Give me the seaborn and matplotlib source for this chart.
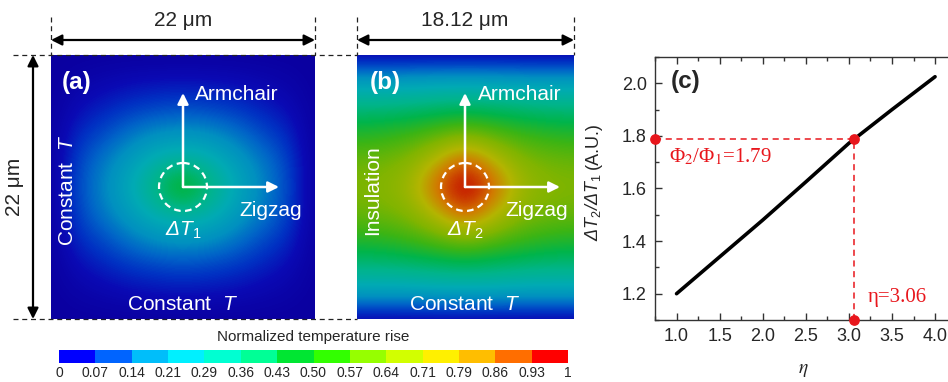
import numpy as np
import matplotlib
matplotlib.use('Agg')
import matplotlib.pyplot as plt
import seaborn as sns
from matplotlib.colors import ListedColormap, LinearSegmentedColormap, BoundaryNorm
from matplotlib.patches import Circle
from matplotlib.ticker import MultipleLocator
import matplotlib.cm as cm

# ---------------- data ----------------
eta = [1.0, 1.5, 2.0, 2.5, 3.0, 3.5, 4.0]
ratio = [1.20, 1.34, 1.48, 1.625, 1.772, 1.90, 2.025]
eta_mark = 3.06
ratio_mark = 1.79
xlim_c = (0.75, 4.25)
ylim_c = (1.1, 2.1)

cbar_labels = ['0', '0.07', '0.14', '0.21', '0.29', '0.36', '0.43', '0.50',
               '0.57', '0.64', '0.71', '0.79', '0.86', '0.93', '1']
cbar_colors = ['#0000ff', '#0064ff', '#00befa', '#00f0ff', '#00ffd2', '#00ff96',
               '#00e632', '#32ff00', '#96ff00', '#d2ff00', '#fff000', '#ffbe00',
               '#ff6e00', '#ff0000']

# normalized temperature rise read on a coarse grid (quadrant: edge -> centre)
quad_a = [
    [0.00, 0.000, 0.000, 0.000, 0.000, 0.00],
    [0.00, 0.020, 0.035, 0.050, 0.057, 0.06],
    [0.00, 0.050, 0.080, 0.105, 0.120, 0.13],
    [0.00, 0.090, 0.130, 0.185, 0.225, 0.24],
    [0.00, 0.120, 0.190, 0.260, 0.330, 0.36],
    [0.00, 0.130, 0.210, 0.300, 0.410, 0.54],
]
quad_b = [
    [0.02, 0.02, 0.02, 0.02, 0.02],
    [0.27, 0.27, 0.27, 0.28, 0.28],
    [0.40, 0.40, 0.41, 0.42, 0.43],
    [0.49, 0.50, 0.52, 0.55, 0.58],
    [0.57, 0.58, 0.61, 0.71, 0.85],
    [0.60, 0.61, 0.66, 0.85, 1.00],
]

heat_pos = [0, 0.05, 0.10, 0.16, 0.22, 0.30, 0.38, 0.45, 0.52, 0.60, 0.70,
            0.80, 0.90, 1.0]
heat_col = ['#0a00a0', '#0a0ab4', '#0032c3', '#0064c8', '#0090c0', '#00aab4',
            '#00b48c', '#00b44b', '#3cb414', '#82b400', '#b4b400', '#d27800',
            '#c82800', '#a00000']


def mirror(q):
    q = np.array(q, dtype=float)
    top = np.hstack([q, np.fliplr(q[:, :-1])])
    return np.vstack([top, np.flipud(top[:-1])])


# ---------------- style ----------------
sns.set_style('ticks')
plt.rcParams['font.family'] = ['Liberation Sans', 'DejaVu Sans']
plt.rcParams['mathtext.fontset'] = 'custom'
plt.rcParams['mathtext.rm'] = 'Liberation Sans'
plt.rcParams['mathtext.it'] = 'Liberation Sans:italic'
plt.rcParams['mathtext.bf'] = 'Liberation Sans:bold'

W, H = 948, 382
fig = plt.figure(figsize=(W / 100, H / 100), dpi=100, facecolor='white')


def rect(x0, y0, x1, y1):
    return [x0 / W, 1 - y1 / H, (x1 - x0) / W, (y1 - y0) / H]


axa = fig.add_axes(rect(51, 55, 315, 319))
axb = fig.add_axes(rect(357, 55, 574, 319))
axc = fig.add_axes(rect(655, 57, 956.6, 320))
cax = fig.add_axes(rect(59, 350, 568, 362.5))

heat_cmap = LinearSegmentedColormap.from_list('heat', list(zip(heat_pos, heat_col)))


def show_field(ax, field):
    ny, nx = field.shape
    dx = 0.5 / (nx - 1)
    dy = 0.5 / (ny - 1)
    ax.imshow(field, cmap=heat_cmap, vmin=0, vmax=1, interpolation='bicubic',
              extent=(-dx, 1 + dx, 1 + dy, -dy), aspect='auto')
    ax.set_xlim(0, 1)
    ax.set_ylim(1, 0)
    ax.axis('off')


show_field(axa, mirror(quad_a))
show_field(axb, mirror(quad_b))

# ---------------- colorbar ----------------
bounds = np.linspace(0, 1, len(cbar_colors) + 1)
sm = cm.ScalarMappable(norm=BoundaryNorm(bounds, len(cbar_colors)),
                       cmap=ListedColormap(cbar_colors))
cb = fig.colorbar(sm, cax=cax, orientation='horizontal', ticks=bounds)
cb.outline.set_visible(False)
cax.set_xticklabels(cbar_labels)
cax.tick_params(length=0, pad=2.5, labelsize=10)
fig.text(313 / W, 1 - 337 / H, 'Normalized temperature rise', ha='center',
         va='center', fontsize=11)

# ---------------- panel (c) ----------------
red = '#e8161c'
sns.lineplot(x=eta, y=ratio, color='black', linewidth=2.6, ax=axc)
axc.set_xlim(*xlim_c)
axc.set_ylim(*ylim_c)
axc.plot([xlim_c[0], eta_mark], [ratio_mark, ratio_mark], ls=(0, (4, 3)),
         color=red, lw=1.1)
axc.plot([eta_mark, eta_mark], [ylim_c[0], ratio_mark], ls=(0, (4, 3)),
         color=red, lw=1.1)
axc.scatter([xlim_c[0], eta_mark, eta_mark], [ratio_mark, ratio_mark, ylim_c[0]],
            s=45, color=red, clip_on=False, zorder=5)
axc.text(0.91, 1.719, r'Φ$_2$/Φ$_1$=1.79', color=red, fontsize=15,
         family='Liberation Serif', math_fontfamily='stix', va='center')
axc.text(3.22, 1.187, 'η=3.06', color=red, fontsize=15,
         family='Liberation Serif', va='center')
axc.text(0.053, 0.905, '(c)', transform=axc.transAxes, fontweight='bold',
         fontsize=17.5, ha='left', va='center')
axc.xaxis.set_major_locator(MultipleLocator(0.5))
axc.xaxis.set_minor_locator(MultipleLocator(0.25))
axc.yaxis.set_major_locator(MultipleLocator(0.2))
axc.yaxis.set_minor_locator(MultipleLocator(0.1))
axc.tick_params(which='both', direction='in', top=True, right=True, width=1,
                color='#333333')
axc.tick_params(which='major', length=5, labelsize=13, pad=6)
axc.tick_params(which='minor', length=3)
for s in axc.spines.values():
    s.set_linewidth(1.0)
    s.set_color('#333333')
ylab = axc.set_ylabel(r'ΔT$_2$/ΔT$_1$', fontsize=13, fontstyle='italic')
axc.yaxis.set_label_coords((603 - 655) / 301.6, 0.428)
axc.annotate('(A.U.)', xy=(0.5, 1.0), xycoords=ylab, xytext=(0, 3),
             textcoords='offset points', rotation=90, ha='center', va='bottom',
             fontsize=13)
axc.set_xlabel(r'$\eta$', fontsize=14, math_fontfamily='stix')
axc.xaxis.set_label_coords((803 - 655) / 301.6, (320 - 362) / 263)

# ---------------- overlay annotations (pixel coordinates) ----------------
ov = fig.add_axes([0, 0, 1, 1])
ov.set_xlim(0, W)
ov.set_ylim(H, 0)
ov.axis('off')
ov.set_zorder(10)

blk = dict(arrowstyle='<|-|>', color='black', lw=1.6, mutation_scale=16,
           shrinkA=0, shrinkB=0)
ov.annotate('', xy=(51, 40), xytext=(315, 40), arrowprops=blk)
ov.annotate('', xy=(357, 40), xytext=(574, 40), arrowprops=blk)
ov.annotate('', xy=(33, 55), xytext=(33, 319), arrowprops=blk)
dash = dict(color='#222222', lw=0.9, ls=(0, (4, 3)))
ov.plot([13, 357], [55, 55], **dash)
ov.plot([13, 357], [319, 319], **dash)
for x in (51, 315, 357, 574):
    ov.plot([x, x], [17, 55], **dash)
ov.text(183, 21, '22 μm', ha='center', va='center', fontsize=15)
ov.text(465, 21, '18.12 μm', ha='center', va='center', fontsize=15)
ov.text(15, 187, '22 μm', rotation=90, ha='center', va='center', fontsize=15)

wa = dict(arrowstyle='-|>', color='white', lw=1.8, mutation_scale=16,
          shrinkA=0, shrinkB=0)
for cx, tip_x in ((183, 279), (465, 560)):
    ov.annotate('', xy=(cx, 93), xytext=(cx, 187), arrowprops=wa)
    ov.annotate('', xy=(tip_x, 187), xytext=(cx, 187), arrowprops=wa)
    ov.add_patch(Circle((cx, 187), 24, fill=False, ec='white', lw=1.6,
                        ls=(0, (3, 2))))

wt = dict(color='white', fontsize=15, va='center')
ov.text(62, 82, '(a)', ha='left', fontweight='bold', color='white',
        fontsize=17.5, va='center')
ov.text(370, 82, '(b)', ha='left', fontweight='bold', color='white',
        fontsize=17.5, va='center')
ov.text(195, 95, 'Armchair', ha='left', **wt)
ov.text(478, 95, 'Armchair', ha='left', **wt)
ov.text(239, 210, 'Zigzag', ha='left', **wt)
ov.text(505, 210, 'Zigzag', ha='left', **wt)
ov.text(183, 230, r'ΔT$_1$', ha='center', fontstyle='italic', **wt)
ov.text(465, 230, r'ΔT$_2$', ha='center', fontstyle='italic', **wt)
ov.text(68, 190, r'Constant  $T$', rotation=90, ha='center', **wt)
ov.text(373, 190, 'Insulation', rotation=90, ha='center', **wt)
ov.text(183, 304, r'Constant  $T$', ha='center', **wt)
ov.text(465, 304, r'Constant  $T$', ha='center', **wt)

fig.savefig('out.png', dpi=100, facecolor='white')
